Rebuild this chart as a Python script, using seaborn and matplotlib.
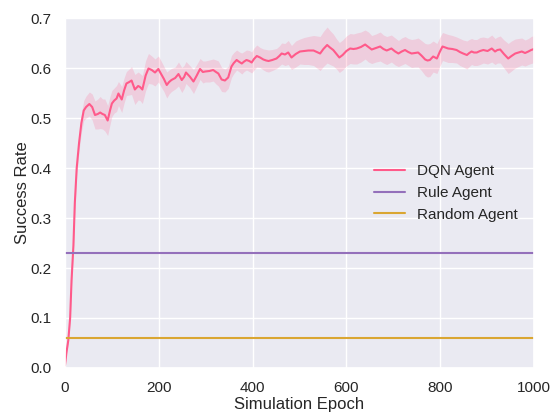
import numpy as np
import seaborn as sns
import matplotlib
matplotlib.use("Agg")
import matplotlib.pyplot as plt

# DQN success rate (mean) and half-width of the shaded band
epochs = [
    0, 3, 7, 11, 14, 18, 21, 25, 30, 35,
    40, 45, 52, 58, 64, 70, 75, 80, 85, 91,
    96, 100, 105, 110, 114, 121, 126, 131, 137, 142,
    149, 156, 160, 165, 172, 178, 185, 192, 199, 205,
    211, 217, 222, 227, 235, 242, 249, 254, 258, 266,
    274, 281, 288, 294, 299, 308, 316, 322, 327, 334,
    341, 348, 355, 360, 366, 372, 377, 382, 387, 393,
    398, 403, 409, 416, 423, 429, 434, 442, 451, 457,
    462, 469, 476, 483, 492, 501, 510, 519, 530, 537,
    544, 551, 559, 565, 572, 579, 585, 592, 600, 608,
    615, 622, 631, 640, 647, 654, 663, 672, 679, 686,
    696, 704, 711, 718, 725, 732, 739, 746, 753, 760,
    768, 773, 778, 785, 793, 799, 805, 811, 817, 826,
    835, 842, 849, 857, 862, 867, 872, 878, 885, 892,
    901, 910, 917, 922, 928, 936, 945, 952, 960, 967,
    974, 981, 988, 994, 1000,
]
dqn_mean = [
    .005, .030, .055, .100, .175, .245, .330, .400, .450, .490,
    .515, .522, .528, .522, .506, .508, .511, .508, .506, .495,
    .515, .529, .535, .539, .549, .537, .555, .569, .572, .575,
    .557, .564, .562, .557, .585, .599, .596, .591, .598, .588,
    .578, .566, .572, .576, .580, .588, .576, .582, .591, .583,
    .573, .585, .598, .592, .593, .594, .596, .592, .589, .577,
    .575, .581, .603, .610, .616, .612, .609, .613, .616, .614,
    .611, .618, .624, .621, .617, .615, .614, .616, .619, .624,
    .629, .627, .631, .621, .628, .633, .634, .635, .635, .632,
    .629, .638, .646, .641, .636, .628, .621, .626, .634, .639,
    .638, .639, .642, .647, .642, .637, .640, .643, .638, .635,
    .639, .633, .629, .633, .636, .632, .629, .630, .631, .625,
    .617, .615, .616, .623, .619, .632, .643, .641, .639, .638,
    .636, .632, .629, .626, .630, .633, .631, .631, .634, .636,
    .634, .639, .633, .636, .637, .628, .619, .624, .629, .631,
    .633, .630, .633, .636, .638,
]
dqn_spread = [
    .001, .003, .005, .006, .008, .010, .012, .014, .016, .018,
    .020, .022, .024, .026, .028, .030, .032, .030, .032, .030,
    .028, .026, .025, .026, .024, .026, .025, .024, .026, .028,
    .030, .028, .027, .028, .030, .030, .028, .027, .026, .026,
    .025, .026, .024, .023, .022, .024, .025, .023, .022, .022,
    .024, .022, .021, .022, .021, .022, .022, .024, .025, .024,
    .023, .022, .022, .021, .020, .020, .021, .020, .020, .021,
    .021, .022, .022, .020, .021, .022, .022, .021, .020, .020,
    .021, .022, .024, .024, .026, .025, .027, .028, .030, .032,
    .034, .035, .036, .034, .032, .030, .030, .030, .030, .030,
    .030, .031, .030, .029, .030, .028, .028, .029, .028, .028,
    .027, .027, .026, .027, .027, .027, .028, .028, .029, .030,
    .032, .033, .033, .031, .030, .029, .028, .028, .028, .027,
    .026, .027, .027, .028, .027, .026, .026, .026, .027, .026,
    .026, .027, .026, .026, .027, .028, .030, .030, .029, .028,
    .027, .026, .026, .027, .027,
]
rule_rate = 0.23
random_rate = 0.06

sns.set_theme(style="darkgrid", context="notebook")
plt.rcParams["font.family"] = ["Liberation Sans", "DejaVu Sans"]

fig, ax = plt.subplots(figsize=(5.53, 4.12), dpi=100)
fig.subplots_adjust(left=0.1175, right=0.9656, top=0.9563, bottom=0.1068)

x = np.array(epochs)
m = np.array(dqn_mean)
s = np.array(dqn_spread)

dqn_color = "#ff5a8a"
ax.fill_between(x, m - s, m + s, color=dqn_color, alpha=0.2, linewidth=0)
sns.lineplot(x=x, y=m, ax=ax, color=dqn_color, linewidth=1.5, label="DQN Agent")
sns.lineplot(x=[0, 1000], y=[rule_rate, rule_rate], ax=ax, color="#9470bb",
             linewidth=1.5, label="Rule Agent")
sns.lineplot(x=[0, 1000], y=[random_rate, random_rate], ax=ax, color="#daa632",
             linewidth=1.5, label="Random Agent")

ax.set_xlim(0, 1000)
ax.set_ylim(0, 0.7)
ax.set_xlabel("Simulation Epoch", labelpad=1.5)
ax.set_ylabel("Success Rate", labelpad=0.5)
ax.legend(loc="center right", frameon=False, bbox_to_anchor=(0.995, 0.5))

fig.savefig("out.png", dpi=100)
